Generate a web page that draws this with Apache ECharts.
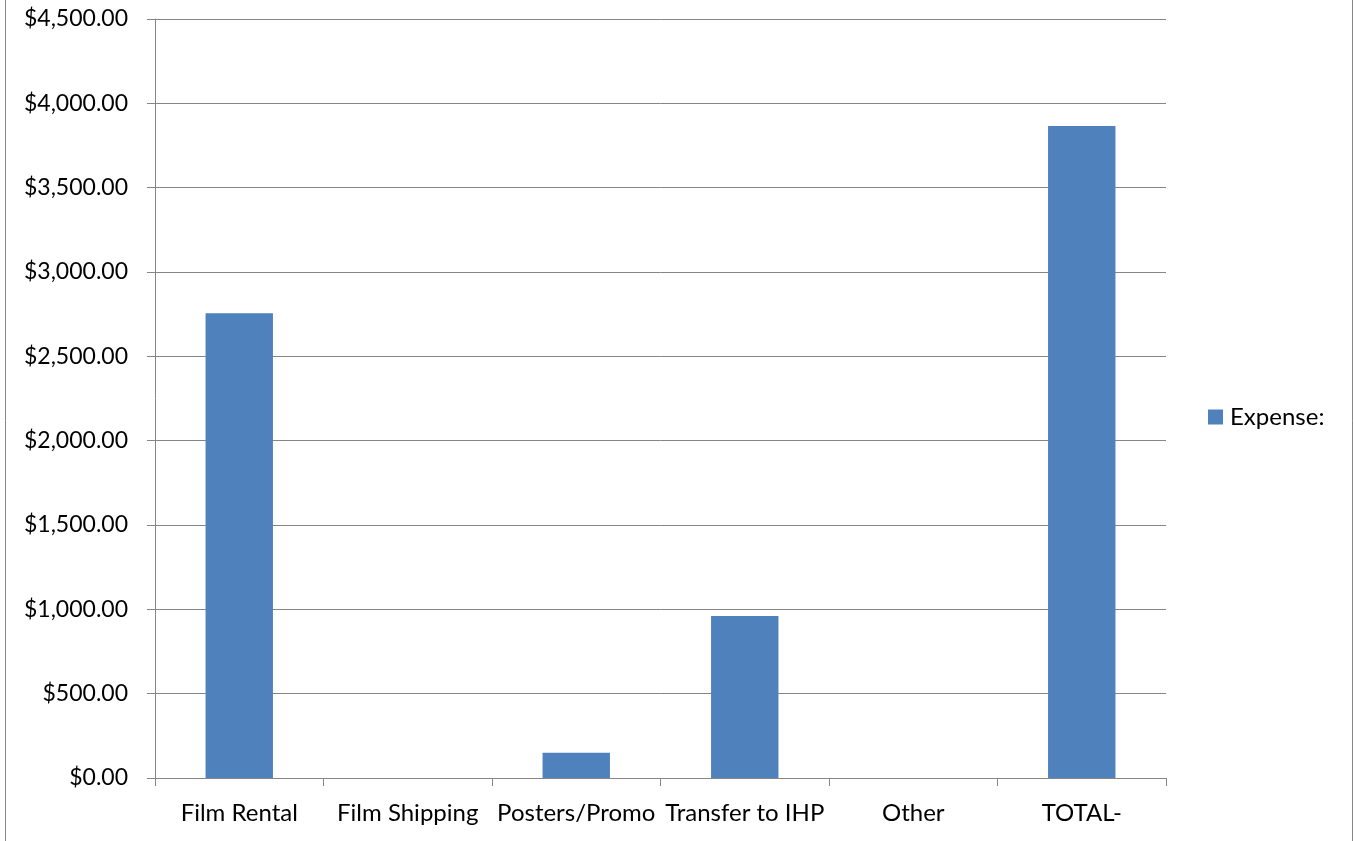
<!DOCTYPE html>
<html>
<head>
<meta charset="utf-8">
<script src="https://cdn.jsdelivr.net/npm/echarts@6/dist/echarts.min.js"></script>
<style>
  html, body { margin: 0; padding: 0; background: #fff; }
  #chart { width: 1354px; height: 841px; }
</style>
</head>
<body>
<div id="chart"></div>
<script>
// Expense breakdown by category
const categories = ['Film Rental', 'Film Shipping', 'Posters/Promo', 'Transfer to IHP', 'Other', 'TOTAL-'];
const expense = [2755, 0, 150, 960, 0, 3865];
const seriesName = 'Expense:';

const FONT = 'Lato';
const AXIS_COLOR = '#868686';

const chart = echarts.init(document.getElementById('chart'));

function money(v) {
  return '$' + v.toLocaleString('en-US', { minimumFractionDigits: 2, maximumFractionDigits: 2 });
}

chart.setOption({
  animation: false,
  backgroundColor: '#ffffff',
  textStyle: { fontFamily: FONT },
  grid: { left: 155, right: 188, top: 19, bottom: 63, containLabel: false },
  legend: {
    data: [seriesName],
    orient: 'vertical',
    left: 1208,
    top: 405,
    padding: 0,
    itemWidth: 15,
    itemHeight: 15,
    icon: 'rect',
    textStyle: { fontFamily: FONT, fontSize: 24, color: '#000', padding: [0, 0, 0, 2] }
  },
  xAxis: {
    type: 'category',
    data: categories,
    axisLine: { lineStyle: { color: AXIS_COLOR, width: 1 } },
    axisTick: { show: true, alignWithLabel: false, length: 8, lineStyle: { color: AXIS_COLOR } },
    axisLabel: { color: '#000', fontFamily: FONT, fontSize: 24, margin: 23, interval: 0 },
    splitLine: { show: false }
  },
  yAxis: {
    type: 'value',
    min: 0,
    max: 4500,
    interval: 500,
    axisLine: { show: true, lineStyle: { color: AXIS_COLOR, width: 1 } },
    axisTick: { show: true, inside: false, length: 8, lineStyle: { color: AXIS_COLOR } },
    axisLabel: { color: '#000', fontFamily: FONT, fontSize: 23, margin: 27, formatter: money },
    splitLine: { show: true, lineStyle: { color: AXIS_COLOR, width: 1 } }
  },
  series: [{
    name: seriesName,
    type: 'bar',
    data: expense,
    barWidth: '40%',
    itemStyle: { color: '#4F81BD' }
  }],
  graphic: [
    { type: 'line', shape: { x1: 5.5, y1: 0, x2: 5.5, y2: 841 }, style: { stroke: AXIS_COLOR, lineWidth: 1 } },
    { type: 'line', shape: { x1: 1352.5, y1: 0, x2: 1352.5, y2: 841 }, style: { stroke: AXIS_COLOR, lineWidth: 1 } }
  ]
});
</script>
</body>
</html>
